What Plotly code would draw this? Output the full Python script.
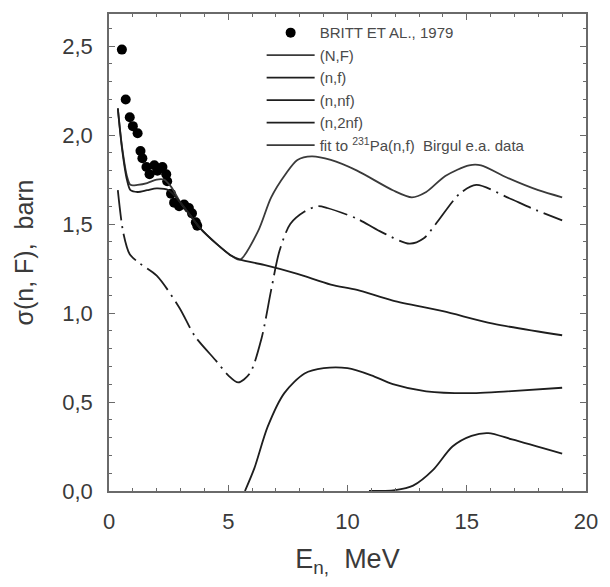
import plotly.graph_objects as go

# Neutron-induced fission cross sections of 232Pa vs incident energy

# Measured points (Britt et al., 1979)
britt_E = [0.54, 0.70, 0.87, 1.00, 1.20, 1.32, 1.40, 1.57, 1.70, 1.90, 2.03, 2.24,
           2.40, 2.44, 2.60, 2.73, 2.94, 3.15, 3.35, 3.48, 3.64, 3.70]
britt_sig = [2.48, 2.20, 2.10, 2.05, 2.01, 1.91, 1.87, 1.82, 1.78, 1.83, 1.80, 1.82,
             1.78, 1.74, 1.67, 1.62, 1.60, 1.61, 1.59, 1.56, 1.51, 1.49]

# Total fission cross section (N,F)
total_E = [0.37, 0.55, 0.75, 0.90, 1.20, 1.60, 2.00, 2.30, 2.60, 3.00, 3.40, 3.80,
           4.50, 5.15, 5.50, 6.25, 6.80, 7.40, 7.90, 8.50, 9.30, 10.4, 11.9,
           12.7, 13.3, 14.1, 15.1, 15.6, 16.7, 18.0, 19.0]
total_sig = [2.15, 1.93, 1.77, 1.72, 1.72, 1.73, 1.75, 1.75, 1.71, 1.62, 1.55, 1.48,
             1.39, 1.32, 1.30, 1.46, 1.65, 1.78, 1.86, 1.88, 1.86, 1.80, 1.69,
             1.65, 1.68, 1.77, 1.83, 1.83, 1.76, 1.69, 1.65]

# First-chance fission (n,f)
nf_E = [0.37, 0.55, 0.75, 0.90, 1.20, 1.60, 2.00, 2.50, 3.00, 3.40, 3.80, 4.50,
        5.15, 5.50, 6.50, 7.90, 9.30, 10.4, 11.9, 14.0, 16.1, 19.0]
nf_sig = [2.15, 1.92, 1.75, 1.69, 1.68, 1.69, 1.70, 1.69, 1.62, 1.55, 1.48, 1.39,
          1.32, 1.30, 1.27, 1.22, 1.16, 1.13, 1.07, 1.01, 0.94, 0.875]

# Second-chance fission (n,nf)
nnf_E = [5.70, 6.10, 6.65, 7.35, 8.20, 9.00, 10.0, 11.0, 11.9, 13.3, 15.4, 16.7, 19.0]
nnf_sig = [0.00, 0.13, 0.36, 0.55, 0.66, 0.69, 0.69, 0.65, 0.60, 0.56, 0.55, 0.56, 0.58]

# Third-chance fission (n,2nf)
n2nf_E = [10.9, 12.0, 12.75, 13.6, 14.4, 15.2, 15.9, 16.9, 19.0]
n2nf_sig = [0.00, 0.005, 0.03, 0.12, 0.25, 0.31, 0.325, 0.29, 0.21]

# Fit to 231Pa(n,f) data of Birgul et al.
fit_E = [0.37, 0.60, 0.87, 1.28, 2.00, 2.95, 3.60, 4.50, 5.00, 5.42, 5.90, 6.40,
         6.80, 7.15, 7.60, 8.20, 8.75, 9.15, 10.4, 11.35, 12.6, 13.2, 13.7, 14.7,
         15.4, 16.7, 17.7, 19.0]
fit_sig = [1.69, 1.45, 1.33, 1.28, 1.21, 1.03, 0.87, 0.73, 0.65, 0.61, 0.66, 0.86,
           1.13, 1.35, 1.50, 1.57, 1.60, 1.59, 1.53, 1.46, 1.39, 1.42, 1.50, 1.67,
           1.72, 1.65, 1.59, 1.52]

INK = "#1e1e1e"
GREY = "#3a3a3a"
FONT = "Liberation Sans, Arial, sans-serif"
NB = "\u00a0"

fig = go.Figure()

fig.add_trace(go.Scatter(
    x=britt_E, y=britt_sig, mode="markers", name="BRITT ET AL., 1979",
    marker=dict(color="black", size=10, symbol="circle"),
))

curve_line = dict(color=INK, width=1.8, shape="spline", smoothing=0.8)

fig.add_trace(go.Scatter(x=total_E, y=total_sig, mode="lines", name="(N,F)",
                         line=dict(curve_line, color=GREY)))
fig.add_trace(go.Scatter(x=nf_E, y=nf_sig, mode="lines", name="(n,f)",
                         line=curve_line))
fig.add_trace(go.Scatter(x=nnf_E, y=nnf_sig, mode="lines", name="(n,nf)",
                         line=curve_line))
fig.add_trace(go.Scatter(x=n2nf_E, y=n2nf_sig, mode="lines", name="(n,2nf)",
                         line=curve_line))
fig.add_trace(go.Scatter(x=fit_E, y=fit_sig, mode="lines", showlegend=False,
                         line=dict(curve_line, dash="30px,6px,2px,6px")))
# legend entry for the fit curve (drawn with a plain line)
fig.add_trace(go.Scatter(x=[None], y=[None], mode="lines",
                         name="fit to <sup>231</sup>Pa(n,f)" + NB * 2 + "Birgul e.a. data",
                         line=dict(color=GREY, width=1.8)))

axis_common = dict(
    showline=True, linecolor="#6a6a6a", linewidth=1.5, mirror="ticks",
    ticks="inside", ticklen=6, tickcolor="#6a6a6a", tickwidth=1,
    showgrid=False, zeroline=False,
    tickfont=dict(family=FONT, size=22, color=GREY),
)

fig.update_xaxes(
    range=[0, 20], dtick=5, tick0=0, ticklabelstandoff=10,
    minor=dict(dtick=1, ticks="inside", ticklen=3, tickcolor="#6a6a6a"),
    title=dict(text="E<sub>n,</sub>" + NB * 2 + "MeV",
               font=dict(family=FONT, size=27, color=GREY), standoff=16),
    **axis_common,
)
fig.update_yaxes(
    range=[0, 2.68], dtick=0.5, tick0=0, tickformat=".1f", ticklabelstandoff=10,
    minor=dict(dtick=0.1, ticks="inside", ticklen=3, tickcolor="#6a6a6a"),
    title=dict(text="σ(n, F)," + NB * 2 + "barn",
               font=dict(family=FONT, size=25, color=GREY), standoff=22),
    **axis_common,
)

fig.update_layout(
    width=610, height=587,
    margin=dict(l=109, r=18, t=13, b=96),
    paper_bgcolor="white", plot_bgcolor="white",
    separators=", ",
    showlegend=True,
    legend=dict(
        x=0.32, y=0.995, xanchor="left", yanchor="top",
        bgcolor="rgba(0,0,0,0)", borderwidth=0,
        font=dict(family=FONT, size=15, color="#4a4a4a"),
        tracegroupgap=0, itemwidth=48,
    ),
)

fig.write_html("out.html")
